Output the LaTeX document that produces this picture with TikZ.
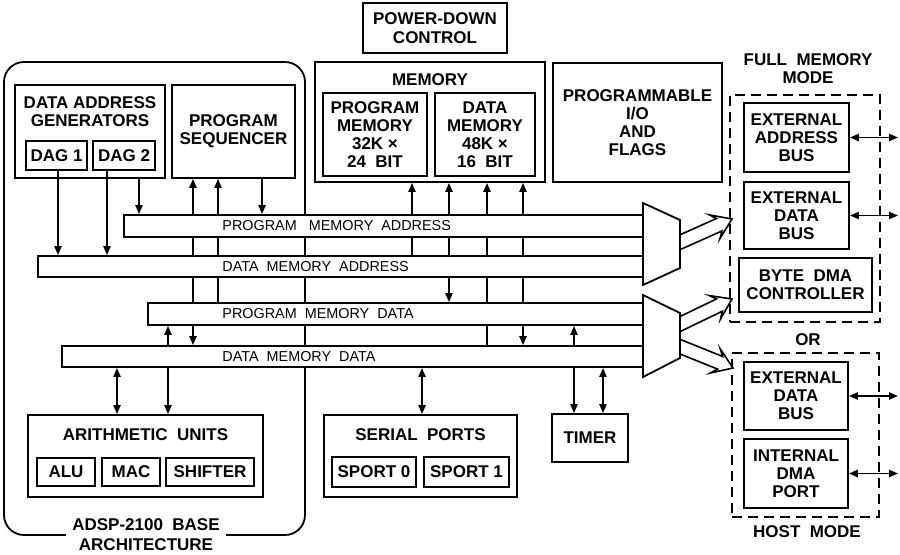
\documentclass[tikz,border=0pt]{standalone}
\usepackage{fontspec}
\setmainfont{Liberation Sans}
\usetikzlibrary{arrows.meta,calc,backgrounds}

\tikzset{
  blk/.style={draw, line width=0.9pt, inner sep=0pt, align=center,
    font=\fontsize{8.5}{9}\selectfont\bfseries},
  ttl/.style={inner sep=0pt, align=center, font=\fontsize{8.5}{9}\selectfont\bfseries},
  bus/.style={draw, line width=0.9pt, fill=white, inner sep=0pt},
  buslbl/.style={anchor=west, inner sep=0pt, font=\fontsize{7.2}{8}\selectfont},
  modebox/.style={draw, line width=0.9pt, dash pattern=on 5pt off 3pt, inner sep=0pt},
  wire/.style={line width=0.9pt},
}

% fat open arrow from #1 to #2
\newcommand\hollowarrow[2]{%
  \coordinate (hac) at ($(#2)!7pt!(#1)$);
  \coordinate (hab) at ($(#2)!9.5pt!(#1)$);
  \draw[line width=0.8pt, fill=white, line join=miter]
    ($(#1)!3.4pt!90:(#2)$) -- ($(hac)!3.4pt!90:(#2)$) -- ($(hab)!6.5pt!90:(#2)$) -- (#2)
    -- ($(hab)!6.5pt!-90:(#2)$) -- ($(hac)!3.4pt!-90:(#2)$) -- ($(#1)!3.4pt!-90:(#2)$);
}

\begin{document}
\begin{tikzpicture}[x=0.5pt,y=-0.5pt,>={Triangle[length=4.5pt,width=3.6pt]}]
    \useasboundingbox (0,0) rectangle (900,554);
    % columns of the vertical wires
    \coordinate (c58) at (58,0);   \coordinate (c107) at (107,0);
    \coordinate (c117) at (117,0); \coordinate (c139) at (139,0);
    \coordinate (c168) at (168,0); \coordinate (c193) at (193,0);
    \coordinate (c218) at (218,0); \coordinate (c262) at (262,0);
    \coordinate (c412) at (412,0); \coordinate (c422) at (422,0);
    \coordinate (c449) at (449,0); \coordinate (c487) at (487,0);
    \coordinate (c523) at (523,0); \coordinate (c574) at (574,0);
    \coordinate (c603) at (603,0); \coordinate (xr) at (898,0);

    % base architecture
    \node[blk, rounded corners=10pt, minimum width=150.5pt, minimum height=236.5pt] (base) at (154.5,298.5) {};
    \node[ttl, fill=white, inner xsep=3pt, font=\fontsize{8.5}{10}\selectfont\bfseries] (baselbl) at (146,535) {ADSP-2100~ BASE\\ARCHITECTURE};
    \node[blk, minimum width=75pt, minimum height=46.5pt] (dagbox) at (90,131.5) {};
    \node[ttl] (dagttl) at (90,112) {DATA ADDRESS\\GENERATORS};
    \node[blk, minimum width=30.5pt, minimum height=14.5pt] (dag1) at (56.5,155.5) {DAG 1};
    \node[blk, minimum width=31pt, minimum height=14.5pt] (dag2) at (124,155.5) {DAG 2};
    \node[blk, minimum width=61.5pt, minimum height=46.5pt] (seq) at (233.5,131.5) {PROGRAM\\SEQUENCER};

    % memory, power-down, I/O
    \node[blk, minimum width=72pt, minimum height=25pt, font=\fontsize{8.5}{9.5}\selectfont\bfseries] (pdc) at (435,28) {POWER-DOWN\\CONTROL};
    \node[blk, minimum width=115pt, minimum height=60pt] (mem) at (430,122) {};
    \node[ttl] (memttl) at (430,80) {MEMORY};
    \node[blk, minimum width=52pt, minimum height=41.5pt] (pm) at (375,134.5) {PROGRAM\\MEMORY\\32K ×\\24~ BIT};
    \node[blk, minimum width=50pt, minimum height=41.5pt] (dm) at (485,134.5) {DATA\\MEMORY\\48K ×\\16~ BIT};
    \node[blk, minimum width=84.5pt, minimum height=59.5pt] (pio) at (637.5,122.5) {PROGRAMMABLE\\I/O\\AND\\FLAGS};

    % buses
    \node[bus, minimum width=259.5pt, minimum height=11pt] (pma) at (383.5,226) {};
    \node[bus, minimum width=302.5pt, minimum height=10.5pt] (dma) at (340.5,266.5) {};
    \node[bus, minimum width=247.5pt, minimum height=11pt] (pmd) at (395.5,314) {};
    \node[bus, minimum width=290.5pt, minimum height=10.5pt] (dmd) at (352.5,356.5) {};
    \node[buslbl] (pmalbl) at (222,226) {PROGRAM~~ MEMORY~ ADDRESS};
    \node[buslbl] (dmalbl) at (222,266.5) {DATA~ MEMORY~ ADDRESS};
    \node[buslbl] (pmdlbl) at (222,314) {PROGRAM~ MEMORY~ DATA};
    \node[buslbl] (dmdlbl) at (222,356.5) {DATA~ MEMORY~ DATA};

    % lower units
    \node[blk, minimum width=117.5pt, minimum height=41pt] (au) at (145.5,456) {};
    \node[ttl] (auttl) at (145.5,435) {ARITHMETIC~ UNITS};
    \node[blk, minimum width=29pt, minimum height=14pt] (alu) at (66,472) {ALU};
    \node[blk, minimum width=29pt, minimum height=14pt] (mac) at (131,472) {MAC};
    \node[blk, minimum width=44pt, minimum height=14pt] (shf) at (210,472) {SHIFTER};
    \node[blk, minimum width=96.5pt, minimum height=41pt] (sp) at (420.5,456) {};
    \node[ttl] (spttl) at (420.5,435) {SERIAL~ PORTS};
    \node[blk, minimum width=42pt, minimum height=15pt] (sp0) at (374,472) {SPORT 0};
    \node[blk, minimum width=42.5pt, minimum height=15pt] (sp1) at (466.5,472) {SPORT 1};
    \node[blk, minimum width=38pt, minimum height=24pt] (tmr) at (590,438) {TIMER};

    % external modes
    \node[ttl] (fmmlbl) at (808,69) {FULL~ MEMORY\\MODE};
    \node[modebox, minimum width=75pt, minimum height=113.5pt] (fmm) at (805,208.5) {};
    \node[blk, minimum width=52.5pt, minimum height=34.5pt] (eab) at (796.5,137.5) {EXTERNAL\\ADDRESS\\BUS};
    \node[blk, minimum width=52.5pt, minimum height=33.5pt] (edb1) at (796.5,215.5) {EXTERNAL\\DATA\\BUS};
    \node[blk, minimum width=66.5pt, minimum height=27pt] (bdma) at (805.5,285) {BYTE~ DMA\\CONTROLLER};
    \node[ttl] (orlbl) at (808,340) {OR};
    \node[modebox, minimum width=73.5pt, minimum height=82pt] (host) at (805.5,435) {};
    \node[blk, minimum width=52pt, minimum height=34pt] (edb2) at (796,396) {EXTERNAL\\DATA\\BUS};
    \node[blk, minimum width=52pt, minimum height=34.5pt] (idma) at (796,473.5) {INTERNAL\\DMA\\PORT};
    \node[ttl] (hostlbl) at (807,532) {HOST~ MODE};

    % wide arrows out of the multiplexers
    \coordinate (mx1) at (676,244);  \coordinate (t1) at (732,219);
    \coordinate (mx2) at (676,326);  \coordinate (t2) at (732,299);
    \coordinate (mx3) at (676,345);  \coordinate (t3) at (733,368);
    \hollowarrow{mx1}{t1}
    \hollowarrow{mx2}{t2}
    \hollowarrow{mx3}{t3}

    % multiplexers
    \draw[wire, fill=white] (643,203) -- (680,220) -- (680,268) -- (643,285) -- cycle;
    \draw[wire, fill=white] (643,295) -- (680,313) -- (680,358) -- (643,377) -- cycle;

    % off-chip arrows
    \draw[wire,<->] (eab.east) -- (eab.east -| xr);
    \draw[wire,<->] (edb1.east) -- (edb1.east -| xr);
    \draw[wire,<->] (edb2.east) -- (edb2.east -| xr);
    \draw[wire,<->] (idma.east) -- (idma.east -| xr);

    \begin{pgfonlayer}{background}
      % Edges to the buses
      \draw[wire,->] (c58 |- dag1.south) -- (c58 |- dma.north);
      \draw[wire,->] (c107 |- dag2.south) -- (c107 |- dma.north);
      \draw[wire,->] (c139 |- dagbox.south) -- (c139 |- pma.north);
      \draw[wire,->] (c193 |- pmd.north) -- (c193 |- seq.south);
      \draw[wire,->] (c218 |- pmd.north) -- (c218 |- seq.south);
      \draw[wire,->] (c262 |- seq.south) -- (c262 |- pma.north);
      \draw[wire,->] (c168 |- dmd.north) -- (c168 |- pmd.south);
      \draw[wire,->] (c193 |- pmd.south) -- (c193 |- dmd.north);
      % Edges memory
      \draw[wire,->] (c412 |- dma.north) -- (c412 |- mem.south);
      \draw[wire,<->] (c449 |- pmd.north) -- (c449 |- mem.south);
      \draw[wire,->] (c487 |- dmd.north) -- (c487 |- mem.south);
      \draw[wire,->] (c523 |- pmd.north) -- (c523 |- mem.south);
      \draw[wire,->] (c523 |- pmd.south) -- (c523 |- dmd.north);
      \draw[wire,->] (c574 |- dmd.north) -- (c574 |- pmd.south);
      % Edges lower units
      \draw[wire,<->] (c117 |- dmd.south) -- (c117 |- au.north);
      \draw[wire,->] (c168 |- dmd.south) -- (c168 |- au.north);
      \draw[wire,<->] (c422 |- dmd.south) -- (c422 |- sp.north);
      \draw[wire,->] (c574 |- dmd.south) -- (c574 |- tmr.north);
      \draw[wire,<->] (c603 |- dmd.south) -- (c603 |- tmr.north);
    \end{pgfonlayer}
\end{tikzpicture}
\end{document}
